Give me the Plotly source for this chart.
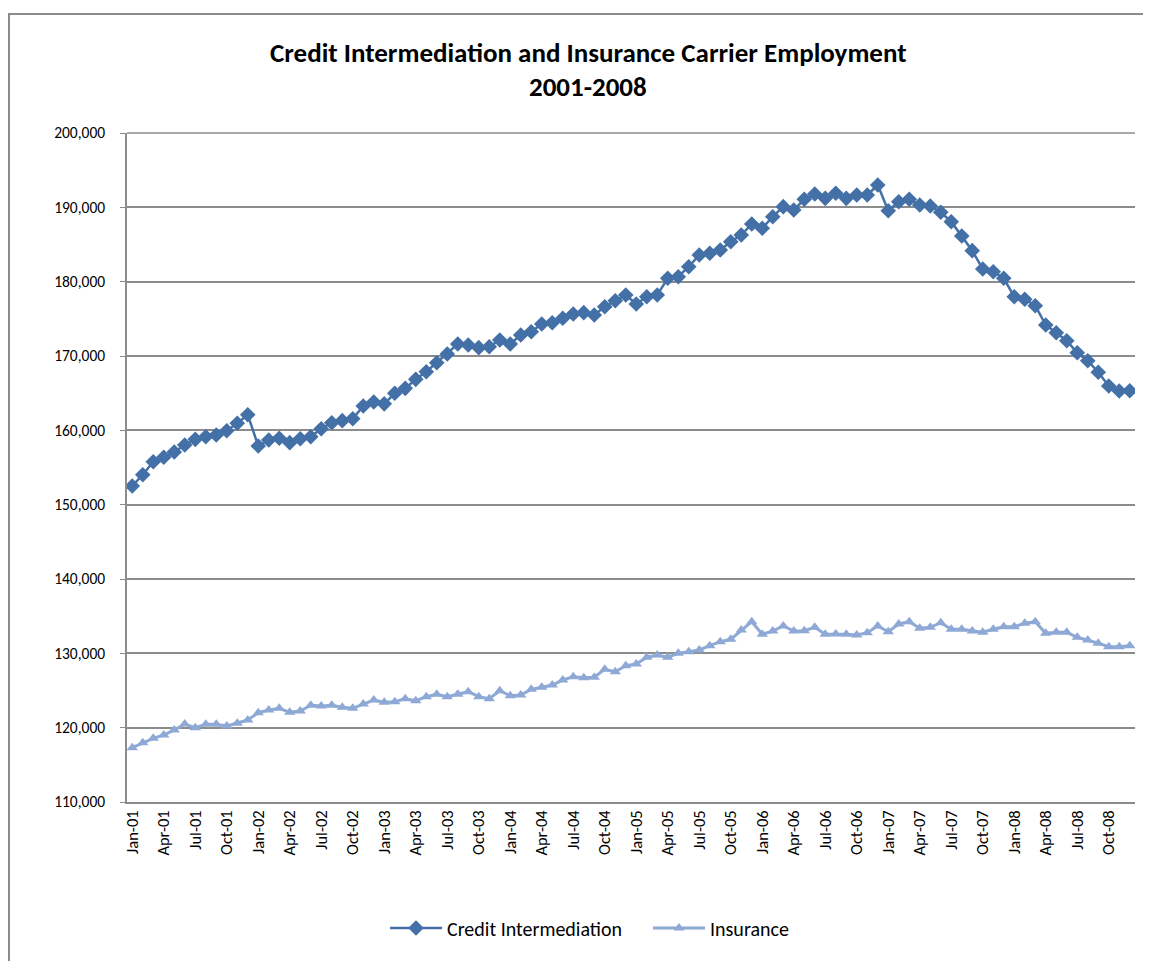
import plotly.graph_objects as go

months = ["Jan", "Feb", "Mar", "Apr", "May", "Jun", "Jul", "Aug", "Sep", "Oct", "Nov", "Dec"]
years = ["01", "02", "03", "04", "05", "06", "07", "08"]
categories = [f"{m}-{y}" for y in years for m in months]

credit_intermediation = [
    152510, 154030, 155780, 156370, 157085, 158030, 158790, 159140, 159370, 159950, 160950, 162100,
    157890, 158700, 158930, 158340, 158870, 159140, 160220, 161030, 161300, 161560, 163270, 163810,
    163560, 164980, 165650, 166860, 167890, 169100, 170270, 171610, 171480, 171120, 171250, 172150,
    171610, 172830, 173270, 174300, 174480, 175070, 175650, 175830, 175520, 176630, 177440, 178210,
    177000, 177980, 178210, 180450, 180670, 182010, 183590, 183820, 184260, 185380, 186280, 187760,
    187180, 188740, 190090, 189640, 191080, 191790, 191210, 191890, 191210, 191660, 191660, 193000,
    189550, 190760, 191080, 190310, 190180, 189330, 188070, 186140, 184170, 181700, 181340, 180450,
    177980, 177630, 176770, 174170, 173130, 172060, 170440, 169370, 167810, 165960, 165290, 165330,
]

insurance = [
    117300, 117980, 118570, 119010, 119690, 120490, 120000, 120450, 120450, 120220, 120590, 121030,
    122010, 122380, 122600, 122070, 122240, 123010, 122910, 123010, 122740, 122600, 123180, 123720,
    123410, 123490, 123900, 123630, 124170, 124490, 124170, 124490, 124840, 124170, 123900, 124970,
    124300, 124390, 125160, 125430, 125740, 126410, 126860, 126720, 126780, 127850, 127530, 128340,
    128560, 129470, 129780, 129470, 130000, 130220, 130450, 131030, 131570, 131890, 133140, 134260,
    132560, 133000, 133680, 133000, 133050, 133500, 132560, 132600, 132560, 132470, 132780, 133680,
    132910, 133950, 134260, 133370, 133500, 134120, 133230, 133230, 133000, 132830, 133230, 133580,
    133580, 134040, 134260, 132690, 132830, 132830, 132160, 131790, 131350, 130890, 130890, 131030,
]

tick_labels = categories[::3]

credit_color = "#4470A8"
ins_color = "#8EA9D5"
font_family = "Carlito, Lato, sans-serif"

W, H = 1151, 961
OFF = 8  # page body margin
L, R, T, B = 119, 24, 125, 167
pw, ph = W - L - R, H - T - B

def px(sx):
    return (sx - OFF - L) / pw

def py(sy):
    return (H - B - (sy - OFF)) / ph

fig = go.Figure()
fig.add_trace(go.Scatter(
    x=categories, y=credit_intermediation, name="Credit Intermediation",
    mode="lines+markers",
    line=dict(color=credit_color, width=2.5),
    marker=dict(symbol="diamond", size=12, color=credit_color),
))
fig.add_trace(go.Scatter(
    x=categories, y=insurance, name="Insurance",
    mode="lines+markers",
    line=dict(color=ins_color, width=3),
    marker=dict(symbol="triangle-up", size=10, color=ins_color),
))

fig.update_layout(
    width=W, height=H,
    margin=dict(l=L, r=R, t=T, b=B, pad=0),
    paper_bgcolor="white", plot_bgcolor="white",
    font=dict(family=font_family, color="black", size=15),
    showlegend=True,
    legend=dict(orientation="h", x=px(385), y=py(928), xanchor="left", yanchor="middle",
                font=dict(size=20, family=font_family), itemwidth=52,
                entrywidth=196, entrywidthmode="pixels", traceorder="normal"),
    xaxis=dict(
        type="category", range=[-0.5, 95.5],
        tickmode="array", tickvals=tick_labels, ticktext=tick_labels,
        tickangle=-90, tickfont=dict(size=16.5),
        showgrid=False, showline=True, linecolor="#8c8c8c", linewidth=1.5,
        ticks="", ticklen=0,
    ),
    yaxis=dict(
        range=[110000, 200000], dtick=10000, tickformat=",d",
        showgrid=True, gridcolor="#8c8c8c", gridwidth=1.5,
        showline=True, linecolor="#8c8c8c", linewidth=1.5,
        ticks="outside", ticklen=5, tickcolor="#8c8c8c",
        tickfont=dict(size=15.5), zeroline=False, ticklabelstandoff=12,
    ),
    shapes=[
        dict(type="rect", xref="paper", yref="paper",
             x0=(1 - L) / pw, y0=py(1000), x1=px(1200), y1=py(14),
             line=dict(color="#8c8c8c", width=2), fillcolor="rgba(0,0,0,0)", layer="below"),
        dict(type="line", xref="paper", yref="paper",
             x0=0, x1=1, y0=1, y1=1,
             line=dict(color="#8c8c8c", width=1.5)),
    ],
    annotations=[
        dict(text="<b>Credit Intermediation and Insurance Carrier Employment</b>",
             xref="paper", yref="paper", x=px(588), y=py(53), xanchor="center", yanchor="middle",
             showarrow=False, font=dict(size=27, family=font_family)),
        dict(text="<b>2001-2008</b>",
             xref="paper", yref="paper", x=px(588), y=py(87), xanchor="center", yanchor="middle",
             showarrow=False, font=dict(size=27, family=font_family)),
    ],
)

fig.write_html("out.html")
